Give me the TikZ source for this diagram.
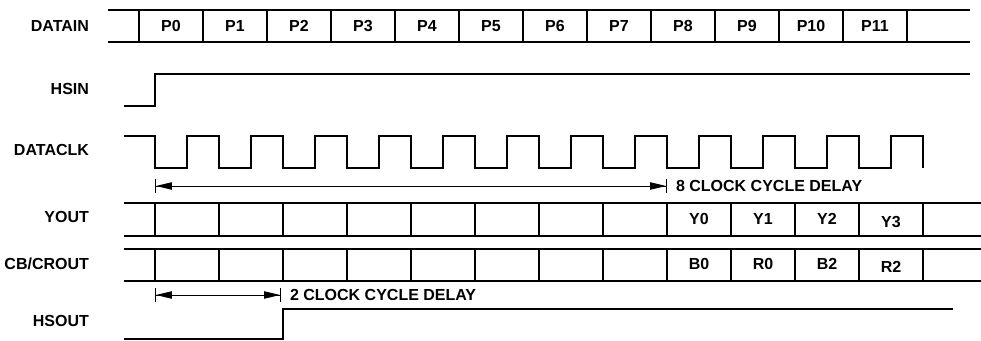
\documentclass[tikz,border=0pt]{standalone}
\usepackage{fontspec}
\setmainfont{Liberation Sans}
\usetikzlibrary{arrows.meta}
\begin{document}
\begin{tikzpicture}[x=0.75pt,y=-0.75pt,line width=1.6pt,
        txt/.style={font=\fontsize{12}{14}\selectfont\bfseries,text height=8.6pt,text depth=0pt,inner sep=0pt},
        signame/.style={txt,anchor=east},
        delay/.style={line width=0.7pt,{Bar[width=10pt]Triangle[length=12pt,width=5.5pt]}-{Triangle[length=12pt,width=5.5pt]Bar[width=10pt]}}]
    \useasboundingbox (0,0) rectangle (981,341);
    % signal names
    \node[signame] (datain) at (90,26) {DATAIN};
    \node[signame] (hsin) at (90,89) {HSIN};
    \node[signame] (dataclk) at (90,150) {DATACLK};
    \node[signame] (yout) at (90,217) {YOUT};
    \node[signame] (crout) at (90,264) {CB/CROUT};
    \node[signame] (hsout) at (90,321) {HSOUT};
    % DATAIN bus
    \draw (108,10) -- (970,10) (108,42) -- (970,42);
    \foreach \k in {0,...,12} \draw ({139+64*\k},10) -- ({139+64*\k},42);
    \foreach \k in {0,...,11} \node[txt] (p\k) at ({171+64*\k},26) {P\k};
    % HSIN
    \draw (124,106) -- (155,106) -- (155,74) -- (970,74);
    % DATACLK
    \draw (124,136) foreach \k in {0,...,11} {-- ({155+64*\k},136) -- ({155+64*\k},168)
        -- ({187+64*\k},168) -- ({187+64*\k},136)} -- (923,136) -- (923,168);
    % YOUT and CB/CROUT buses
    \draw (124,203) -- (981,203) (124,236) -- (981,236);
    \draw (124,249) -- (981,249) (124,281) -- (981,281);
    \foreach \k in {0,...,12} \draw ({155+64*\k},203) -- ({155+64*\k},236) ({155+64*\k},249) -- ({155+64*\k},281);
    \node[txt] (y0) at (699,219) {Y0};
    \node[txt] (y1) at (763,219) {Y1};
    \node[txt] (y2) at (827,219) {Y2};
    \node[txt] (y3) at (891,222) {Y3};
    \node[txt] (b0) at (699,264) {B0};
    \node[txt] (r0) at (763,264) {R0};
    \node[txt] (b2) at (827,264) {B2};
    \node[txt] (r2) at (891,267) {R2};
    % HSOUT
    \draw (124,339) -- (283,339) -- (283,309) -- (953,309);
    % delays
    \coordinate (d8a) at (155,186);
    \coordinate (d8b) at (667,186);
    \coordinate (d2a) at (155,295);
    \coordinate (d2b) at (281,295);
    \draw[delay] (d8a) -- (d8b);
    \draw[delay] (d2a) -- (d2b);
    \node[txt,anchor=west] (cyc8) at (675,186) {8 CLOCK CYCLE DELAY};
    \node[txt,anchor=west] (cyc2) at (289,295) {2 CLOCK CYCLE DELAY};
\end{tikzpicture}
\end{document}
